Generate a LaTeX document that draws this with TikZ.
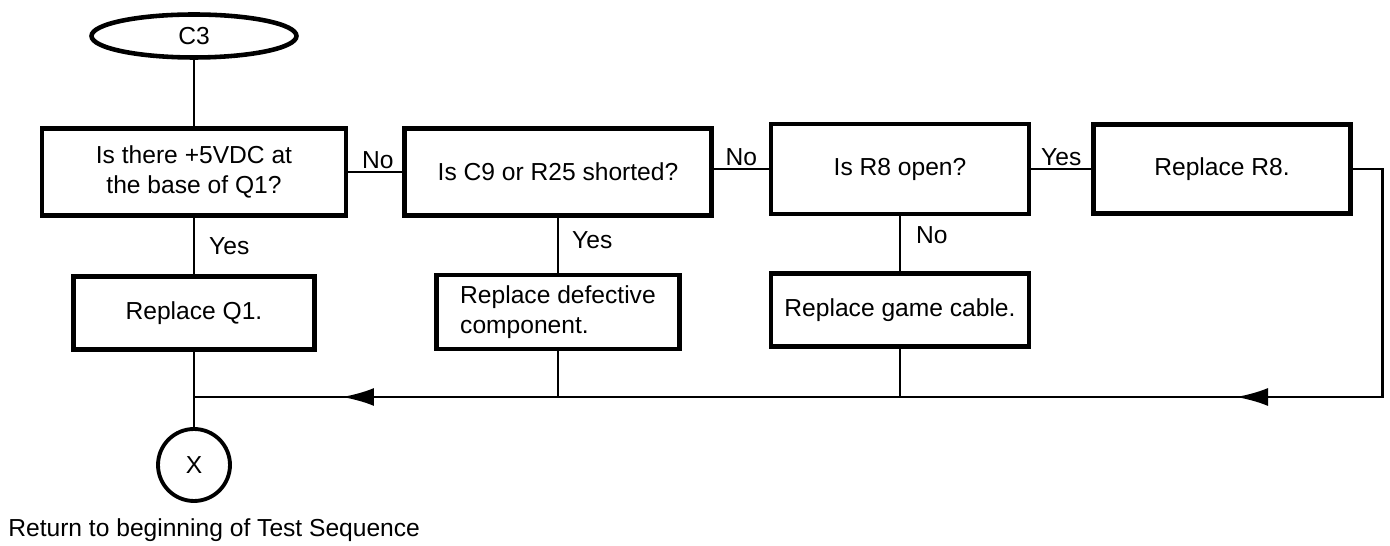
\documentclass[tikz,border=0pt]{standalone}
\usepackage{fontspec}
\setmainfont{Liberation Sans}
\usetikzlibrary{shapes.geometric,arrows.meta}

\begin{document}
\begin{tikzpicture}[x=0.02cm, y=-0.02cm,
    every node/.style={font=\fontsize{14}{17}\selectfont},
    qbox/.style={draw, line width=2.6pt, inner sep=2pt, align=center},
    conn/.style={line width=1.6pt},
    lbl/.style={inner sep=1pt},
    tip/.style={-{Latex[length=0.64cm, width=0.36cm]}}]
    \useasboundingbox (0,0) rectangle (1390,546);

    % Start and questions
    \node[ellipse, draw, line width=2.6pt, minimum width=4.1cm, minimum height=0.86cm, inner sep=0pt] (c3) at (194,36) {C3};
    \node[qbox, minimum width=6.08cm, minimum height=1.74cm] (q1) at (194,172) {Is there +5VDC at\\the base of Q1?};
    \node[qbox, minimum width=6.14cm, minimum height=1.74cm] (q2) at (558,172) {Is C9 or R25 shorted?};
    \node[qbox, minimum width=5.16cm, minimum height=1.8cm] (q3) at (900,169) {Is R8 open?};
    \node[qbox, minimum width=5.14cm, minimum height=1.78cm] (r8) at (1222,169) {Replace R8.};

    % Repairs
    \node[qbox, minimum width=4.82cm, minimum height=1.46cm] (rq1) at (194,313) {Replace Q1.};
    \node[qbox, minimum width=4.86cm, minimum height=1.48cm, align=left] (rcomp) at (558,312) {Replace defective\\component.};
    \node[qbox, minimum width=5.16cm, minimum height=1.46cm] (rcab) at (900,310) {Replace game cable.};

    % Exit
    \node[circle, draw, line width=2.2pt, minimum size=1.44cm, inner sep=0pt] (xend) at (194,465) {X};
    \node[anchor=west, inner sep=0pt] (ret) at (8,530) {Return to beginning of Test Sequence};

    \coordinate (jn) at (194,397);
    \coordinate (a1) at (1236,397);
    \coordinate (b1) at (1280,397);
    \coordinate (a2) at (342,397);
    \coordinate (b2) at (386,397);

    % Connectors
    \draw[conn] (c3.south) -- (q1.north);
    \draw[conn] (q1.east) -- node[lbl, above, pos=0.55] {No} (q2.west);
    \draw[conn] (q3.west -| q2.east) -- node[lbl, above] {No} (q3.west);
    \draw[conn] (q3.east) -- node[lbl, above] {Yes} (r8.west);
    \draw[conn] (q1.south) -- node[lbl, right, xshift=0.24cm] {Yes} (rq1.north);
    \draw[conn] (q2.south) -- node[lbl, right, xshift=0.22cm, pos=0.4] {Yes} (rcomp.north);
    \draw[conn] (q3.south) -- node[lbl, right, xshift=0.26cm, pos=0.35] {No} (rcab.north);

    % Return line
    \draw[conn] (r8.east) -- ++(30,0) |- (jn);
    \draw[conn, tip] (b1) -- (a1);
    \draw[conn, tip] (b2) -- (a2);
    \draw[conn] (rcomp.south) -- (rcomp.south |- jn);
    \draw[conn] (rcab.south) -- (rcab.south |- jn);
    \draw[conn] (rq1.south) -- (xend.north);
\end{tikzpicture}
\end{document}
